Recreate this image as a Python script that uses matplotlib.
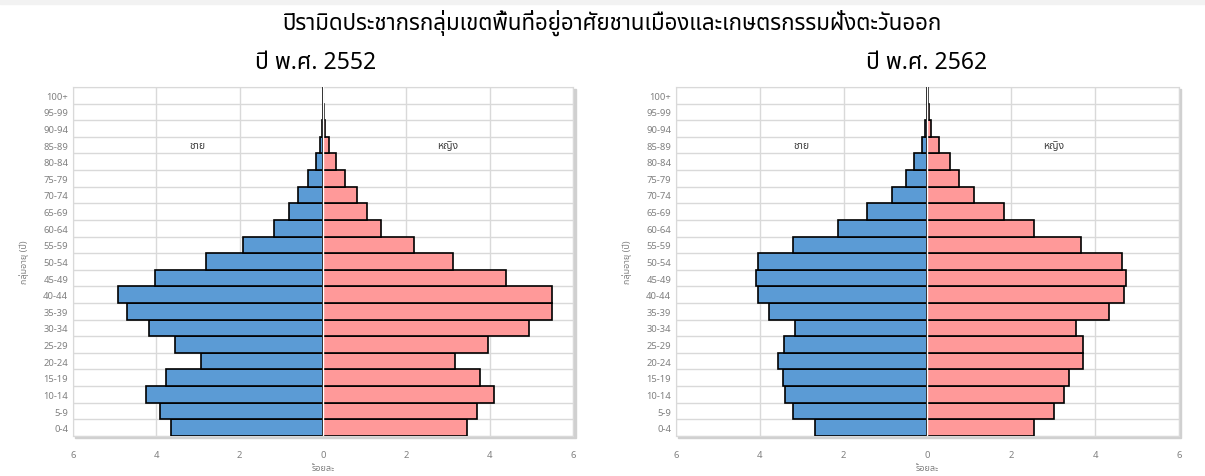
import matplotlib
matplotlib.use("Agg")
import matplotlib.pyplot as plt
from matplotlib.patches import Rectangle
import numpy as np

ages = ["0-4", "5-9", "10-14", "15-19", "20-24", "25-29", "30-34", "35-39",
        "40-44", "45-49", "50-54", "55-59", "60-64", "65-69", "70-74",
        "75-79", "80-84", "85-89", "90-94", "95-99", "100+"]

male_2552 = [3.66, 3.91, 4.24, 3.77, 2.92, 3.55, 4.17, 4.70, 4.91, 4.04, 2.80,
             1.92, 1.17, 0.81, 0.61, 0.36, 0.17, 0.08, 0.03, 0.01, 0.01]
female_2552 = [3.46, 3.70, 4.09, 3.76, 3.17, 3.96, 4.94, 5.49, 5.49, 4.39, 3.12,
               2.18, 1.39, 1.06, 0.82, 0.53, 0.31, 0.14, 0.05, 0.03, 0.01]
male_2562 = [2.68, 3.20, 3.39, 3.44, 3.56, 3.42, 3.15, 3.78, 4.05, 4.10, 4.05,
             3.22, 2.14, 1.44, 0.85, 0.52, 0.31, 0.14, 0.05, 0.01, 0.01]
female_2562 = [2.53, 3.03, 3.25, 3.37, 3.71, 3.71, 3.55, 4.32, 4.70, 4.74, 4.63,
               3.67, 2.55, 1.82, 1.12, 0.76, 0.54, 0.27, 0.09, 0.04, 0.01]

title = "ปิรามิดประชากรกลุ่มเขตพื้นที่อยู่อาศัยชานเมืองและเกษตรกรรมฝั่งตะวันออก"
years = ["ปี พ.ศ. 2552", "ปี พ.ศ. 2562"]

plt.rcParams["font.family"] = ["Noto Sans Thai", "IBM Plex Sans Thai", "Loma",
                               "DejaVu Sans"]

blue = "#5B9BD5"
pink = "#FF9999"
grid = "#D9D9D9"
tick_c = "#808080"

fig = plt.figure(figsize=(12.05, 4.77), dpi=100)
fig.patches.append(Rectangle((0, 0.99), 1, 0.01, transform=fig.transFigure,
                             color="#F2F2F2", zorder=-2))

fig.text(0.508, 0.952, title, ha="center", va="center", fontsize=16)

boxes = [(0.0606, 0.0839, 0.415, 0.7317), (0.561, 0.0839, 0.4174, 0.7317)]
sub_x = [0.262, 0.769]
data = [(male_2552, female_2552), (male_2562, female_2562)]
y = np.arange(len(ages))

for (box, (m, f), yr, sx) in zip(boxes, data, years, sub_x):
    # drop shadow behind the plot area
    fig.patches.append(Rectangle((box[0] + 0.002, box[1] - 0.005), box[2], box[3],
                                 transform=fig.transFigure, color="#D0D0D0",
                                 zorder=-1))
    ax = fig.add_axes(box)
    ax.set_zorder(1)
    ax.barh(y, -np.array(m), height=1.0, color=blue, edgecolor="black",
            linewidth=1.2, zorder=3)
    ax.barh(y, f, height=1.0, color=pink, edgecolor="black",
            linewidth=1.2, zorder=3)
    ax.axvline(0, color="white", lw=1.0, zorder=4)
    ax.set_xlim(-6, 6)
    ax.set_ylim(-0.5, len(ages) - 0.5)
    ax.set_xticks([-6, -4, -2, 0, 2, 4, 6])
    ax.set_xticklabels(["6", "4", "2", "0", "2", "4", "6"])
    ax.set_yticks(y)
    ax.set_yticklabels(ages)
    ax.set_yticks(np.arange(-0.5, len(ages)), minor=True)
    ax.grid(axis="x", color=grid, lw=1.0, zorder=0)
    ax.grid(axis="y", which="minor", color=grid, lw=1.0, zorder=0)
    ax.tick_params(axis="both", which="both", length=0, colors=tick_c,
                   labelsize=6.8)
    ax.tick_params(axis="x", pad=10)
    for s in ax.spines.values():
        s.set_color(grid)
    ax.set_xlabel("ร้อยละ", fontsize=6.5, color=tick_c, labelpad=3)
    ax.set_ylabel("กลุ่มอายุ (ปี)", fontsize=6.5, color=tick_c, labelpad=10)
    ax.text(-3, 17, "ชาย", ha="center", va="center", fontsize=7.5, color="#404040")
    ax.text(3, 17, "หญิง", ha="center", va="center", fontsize=7.5, color="#404040")
    fig.text(sx, 0.868, yr, ha="center", va="center", fontsize=16.5)

fig.savefig("out.png", dpi=100)
